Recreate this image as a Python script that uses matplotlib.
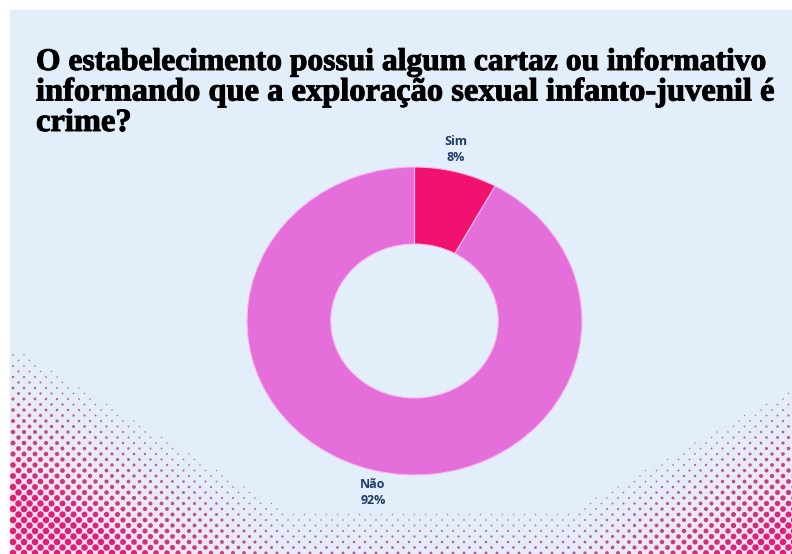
import numpy as np
import matplotlib
matplotlib.use("Agg")
import matplotlib.pyplot as plt
import matplotlib.patheffects as pe

# Data
labels = ["Sim", "Não"]
values = [8, 92]
colors = ["#F0126E", "#E46FDA"]

title_lines = [
    "O estabelecimento possui algum cartaz ou informativo",
    "informando que a exploração sexual infanto-juvenil é",
    "crime?",
]

W, H = 792, 554
bg_color = "#E3EEFB"
label_color = "#1F3B66"

fig = plt.figure(figsize=(W / 100, H / 100), dpi=100)
fig.patch.set_facecolor("white")

# Background panel in pixel coordinates
bg = fig.add_axes([0, 0, 1, 1])
bg.set_xlim(0, W)
bg.set_ylim(H, 0)
bg.axis("off")
bg.add_patch(plt.Rectangle((10, 10), W - 10, H - 10, color=bg_color, zorder=0))


def strength(x, y):
    # halftone strength, high in the bottom corners
    tl = (y - (340 + 0.6 * (x - 10))) / 150
    tr = (y - (385 + 0.55 * (W - x))) / 140
    tm = (y - 508) / 140
    return np.clip(np.maximum(np.maximum(tl, tr), tm), 0, 1)


# Halftone decoration in the bottom corners
gx, gy = [], []
row = 0
for y in np.arange(H - 1, 300, -5.5):
    off = 5.5 if row % 2 else 0
    for x in np.arange(13 + off, W + 6, 11):
        gx.append(x)
        gy.append(y)
    row += 1
gx = np.array(gx)
gy = np.array(gy)
t = strength(gx, gy)
keep = t > 0.03
gx, gy, t = gx[keep], gy[keep], t[keep]

# pink tint under the dots
yy, xx = np.mgrid[0:H, 0:W]
tint = strength(xx, yy)
overlay = np.zeros((H, W, 4))
overlay[..., 0] = 1.0
overlay[..., 1] = 0.86
overlay[..., 2] = 0.94
overlay[..., 3] = 0.8 * tint ** 1.3
overlay[:10, :, 3] = 0
overlay[:, :10, 3] = 0
bg.imshow(overlay, extent=(0, W, H, 0), zorder=1, interpolation="bilinear")

c_small = np.array([0.60, 0.52, 0.64])
c_mid = np.array([0.72, 0.30, 0.52])
c_big = np.array([0.87, 0.12, 0.45])
tt = t[:, None]
dot_cols = np.where(tt < 0.5,
                    c_small * (1 - 2 * tt) + c_mid * 2 * tt,
                    c_mid * (2 - 2 * tt) + c_big * (2 * tt - 1))
diam = 1.2 + 5.3 * t
bg.scatter(gx, gy, s=(diam * 0.72) ** 2, c=dot_cols, linewidths=0, zorder=2)

# Title
title_sizes = [22.7, 23.4, 23.4]
for i, (line, fs) in enumerate(zip(title_lines, title_sizes)):
    bg.text(36, 70 + i * 30.5, line, fontsize=fs, fontweight="bold",
            family="Liberation Serif", color="black", va="baseline", ha="left",
            zorder=3,
            path_effects=[pe.withStroke(linewidth=0.7, foreground="black")])

# Donut chart (the source image is slightly squashed vertically)
cx, cy, rx, ry = 414.5, 321, 167.5, 154
ax = fig.add_axes([(cx - 1.25 * rx) / W, (H - cy - 1.25 * ry) / H,
                   2.5 * rx / W, 2.5 * ry / H])
wedges, _ = ax.pie(values, colors=colors, startangle=90, counterclock=False,
                   wedgeprops=dict(width=0.5, edgecolor="#F6B8EC", linewidth=0.8))
ax.set_aspect("auto")
ax.set_xlim(-1.25, 1.25)
ax.set_ylim(-1.25, 1.25)
ax.axis("off")

for w, lab, v in zip(wedges, labels, values):
    ang = np.deg2rad((w.theta1 + w.theta2) / 2)
    ax.text(1.0 * np.cos(ang), 1.15 * np.sin(ang), f"{lab}\n{v}%",
            ha="center", va="center", fontsize=9, fontweight="bold",
            family="Open Sans", color=label_color, linespacing=1.3)

fig.savefig("out.png", dpi=100, facecolor=fig.get_facecolor())
